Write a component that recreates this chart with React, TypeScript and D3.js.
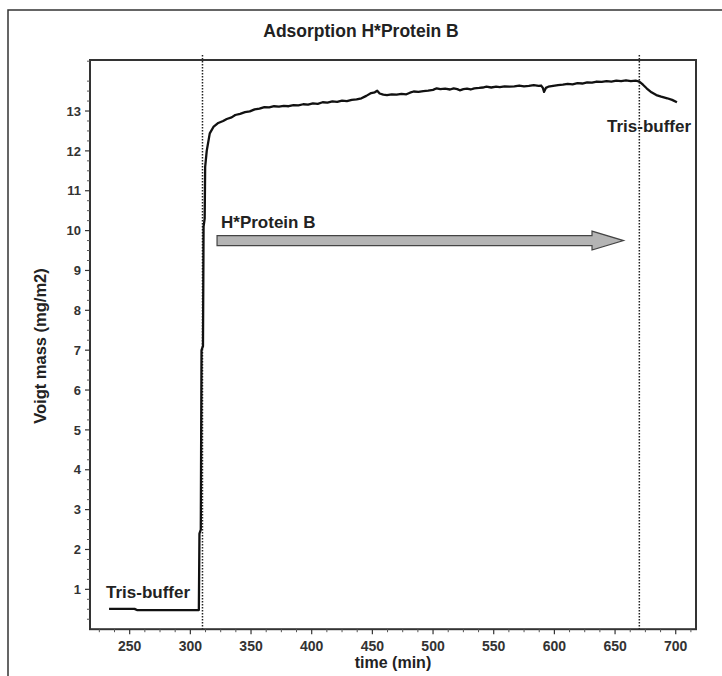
import React from "react";
import * as d3 from "d3";

// measured trace (time in min, Voigt mass in mg/m2)
const time = [
  233, 254, 256, 307, 307.5, 308.6, 309.2, 310.4, 310.9, 311.8, 312.2, 313.5, 316, 319, 323, 327, 330, 334,
  337, 341, 345, 349, 353, 357, 361, 365, 369, 373, 377, 381, 385, 389, 393, 397, 401, 405, 409, 413, 417,
  421, 425, 429, 433, 437, 441, 445, 449, 452, 454, 456, 459, 462, 466, 470, 474, 478, 481, 484, 488, 492,
  496, 500, 503, 506, 510, 514, 517, 520, 522, 525, 528, 531, 534, 538, 541, 544, 548, 552, 555, 559, 563,
  567, 571, 575, 579, 583, 587, 589, 590.5, 591.5, 593, 595, 599, 603, 607, 611, 615, 619, 623, 627, 631,
  635, 639, 643, 647, 651, 655, 659, 663, 667, 670, 673, 676, 680, 684, 688, 693, 697, 701,
];
const mass = [
  0.51, 0.51, 0.48, 0.48, 2.4, 2.5, 7.0, 7.1, 10.1, 10.3, 11.6, 12.0, 12.44, 12.6, 12.7, 12.75, 12.8, 12.84,
  12.9, 12.93, 12.97, 12.99, 13.04, 13.06, 13.1, 13.09, 13.12, 13.11, 13.13, 13.12, 13.15, 13.14, 13.17,
  13.16, 13.19, 13.18, 13.22, 13.21, 13.24, 13.23, 13.26, 13.25, 13.28, 13.29, 13.32, 13.38, 13.45, 13.47,
  13.51, 13.44, 13.41, 13.4, 13.42, 13.41, 13.43, 13.42, 13.46, 13.49, 13.48, 13.5, 13.51, 13.53, 13.57,
  13.55, 13.56, 13.54, 13.57, 13.55, 13.52, 13.55, 13.56, 13.54, 13.57, 13.58, 13.59, 13.61, 13.59, 13.61,
  13.6, 13.62, 13.61, 13.62, 13.64, 13.62, 13.63, 13.65, 13.63, 13.64, 13.58, 13.48, 13.58, 13.61, 13.63,
  13.65, 13.66, 13.68, 13.67, 13.7, 13.69, 13.72, 13.71, 13.74, 13.73, 13.75, 13.74, 13.76, 13.75, 13.77,
  13.75, 13.76, 13.74, 13.66, 13.57, 13.47, 13.4, 13.36, 13.32, 13.28, 13.22,
];

const xTicks = [250, 300, 350, 400, 450, 500, 550, 600, 650, 700];
const yTicks = [1, 2, 3, 4, 5, 6, 7, 8, 9, 10, 11, 12, 13];
const bufferChanges = [310, 670];
// arrow: start, head base, tip, level
const arrowSpan = [322, 631, 657];
const arrowLevel = 9.75;

const font = "'Liberation Sans', Arial, sans-serif";

export default function App() {
  const left = 90;
  const right = 696;
  const top = 60;
  const bottom = 629.2;

  const x = d3.scaleLinear().domain([217.3, 716.7]).range([left, right]);
  const y = d3.scaleLinear().domain([0, 14.28]).range([bottom, top]);

  const pts: [number, number][] = time.map((t, i) => [t, mass[i]]);
  const line = d3
    .line<[number, number]>()
    .x((d) => x(d[0]))
    .y((d) => y(d[1]));

  const xMinor = d3.range(225, 716, 12.5).filter((v) => v % 50 !== 0);
  const yMinor = d3.range(0.25, 14.28, 0.25).filter((v) => v % 1 !== 0);

  const ay = y(arrowLevel);
  const [a0, a1, a2] = arrowSpan.map(x);
  const arrowPts = [
    [a0, ay - 5],
    [a1, ay - 5],
    [a1, ay - 9.5],
    [a2, ay],
    [a1, ay + 9.5],
    [a1, ay + 5],
    [a0, ay + 5],
  ]
    .map((p) => p.join(","))
    .join(" ");

  return (
    <svg
      width={722}
      height={676}
      style={{ position: "absolute", left: 0, top: 0, background: "#fff" }}
      fontFamily={font}
    >
      <rect x={8} y={10} width={730} height={700} fill="#fff" stroke="#333" strokeWidth={1.5} />

      <text x={361} y={37} textAnchor="middle" fontSize={17.5} fontWeight="bold" fill="#222">
        Adsorption H*Protein B
      </text>

      {/* buffer change markers */}
      {bufferChanges.map((t) => (
        <line
          key={t}
          x1={x(t)}
          x2={x(t)}
          y1={55}
          y2={bottom}
          stroke="#222"
          strokeWidth={1.5}
          strokeDasharray="1.5,1.5"
        />
      ))}

      <path d={line(pts) ?? ""} fill="none" stroke="#111" strokeWidth={2.3} strokeLinejoin="round" />

      {/* plot frame */}
      <rect x={left} y={top} width={right - left} height={bottom - top} fill="none" stroke="#333" strokeWidth={2} />

      {/* x axis ticks */}
      {xTicks.map((t) => (
        <g key={t}>
          <line x1={x(t)} x2={x(t)} y1={bottom} y2={bottom + 5} stroke="#333" strokeWidth={1.2} />
          <text x={x(t)} y={651} textAnchor="middle" fontSize={14} fontWeight="bold" fill="#333">
            {t}
          </text>
        </g>
      ))}
      {xMinor.map((t) => (
        <line key={t} x1={x(t)} x2={x(t)} y1={bottom} y2={bottom + 3} stroke="#555" strokeWidth={1} />
      ))}

      {/* y axis ticks */}
      {yTicks.map((v) => (
        <g key={v}>
          <line x1={left - 5} x2={left} y1={y(v)} y2={y(v)} stroke="#333" strokeWidth={1.2} />
          <text x={81} y={y(v)} dy="0.36em" textAnchor="end" fontSize={13} fontWeight="bold" fill="#333">
            {v}
          </text>
        </g>
      ))}
      {yMinor.map((v) => (
        <line key={v} x1={left - 3} x2={left} y1={y(v)} y2={y(v)} stroke="#555" strokeWidth={1} />
      ))}

      <text x={393} y={668} textAnchor="middle" fontSize={16} fontWeight="bold" fill="#222">
        time (min)
      </text>
      <text
        transform={`translate(46,${346}) rotate(-90)`}
        textAnchor="middle"
        fontSize={16.5}
        fontWeight="bold"
        fill="#222"
      >
        Voigt mass (mg/m2)
      </text>

      {/* annotations */}
      <text x={106} y={598} fontSize={17} fontWeight="bold" fill="#222">
        Tris-buffer
      </text>
      <text x={607} y={132} fontSize={17} fontWeight="bold" fill="#222">
        Tris-buffer
      </text>
      <text x={221} y={228} fontSize={17} fontWeight="bold" fill="#222">
        H*Protein B
      </text>
      <polygon points={arrowPts} fill="#b4b4b4" stroke="#444" strokeWidth={1.2} />
    </svg>
  );
}
